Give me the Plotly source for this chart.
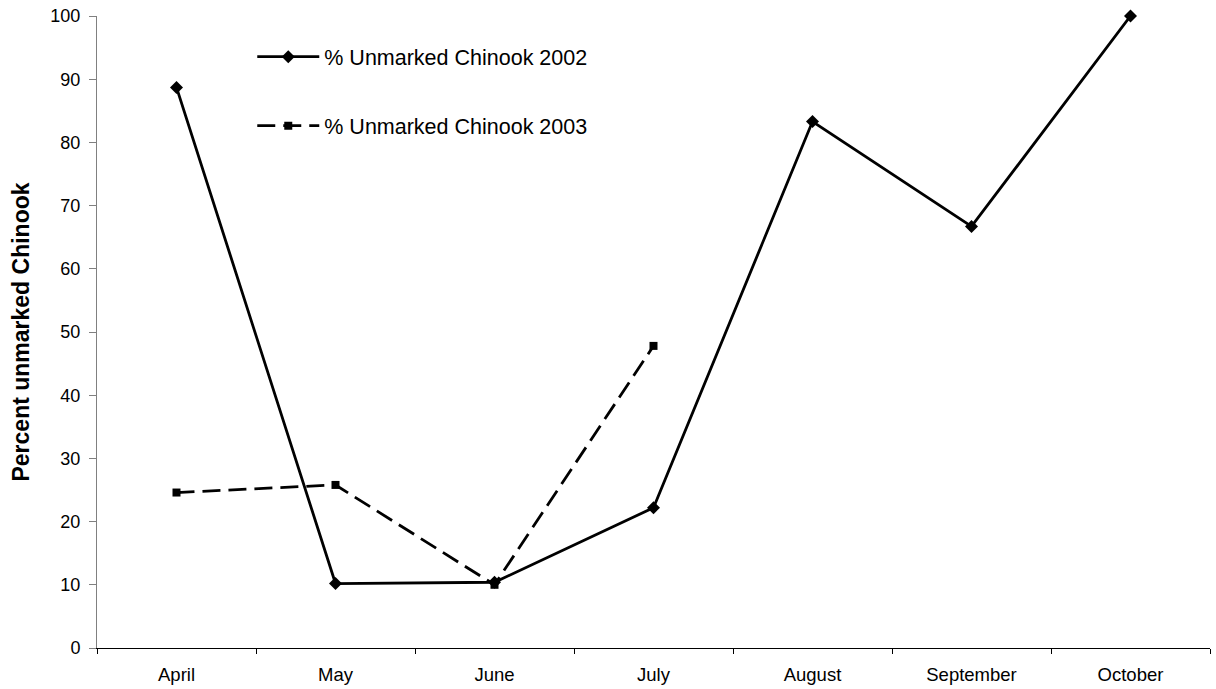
import plotly.graph_objects as go

months = ["April", "May", "June", "July", "August", "September", "October"]
unmarked_2002 = [88.7, 10.2, 10.4, 22.2, 83.3, 66.7, 100.0]
months_2003 = ["April", "May", "June", "July"]
unmarked_2003 = [24.6, 25.8, 10.0, 47.8]
y_ticks = list(range(0, 101, 10))

fig = go.Figure()
fig.add_trace(go.Scatter(
    x=months, y=unmarked_2002, mode="lines+markers",
    name="% Unmarked Chinook 2002", legendgroup="a",
    line=dict(color="black", width=2.8),
    marker=dict(symbol="diamond", size=10, color="black"),
    cliponaxis=False,
))
fig.add_trace(go.Scatter(
    x=months_2003, y=unmarked_2003, mode="lines+markers",
    name="% Unmarked Chinook 2003", legendgroup="b",
    line=dict(color="black", width=2.8, dash="18px,8px"),
    marker=dict(symbol="square", size=8, color="black"),
    cliponaxis=False,
))

fig.update_layout(
    width=1216, height=689,
    margin=dict(l=97, r=6, t=16, b=41),
    paper_bgcolor="white", plot_bgcolor="white",
    font=dict(family="Liberation Sans, Arial, sans-serif", size=18, color="black"),
    showlegend=True,
    legend=dict(x=0.1395, y=0.968, xanchor="left", yanchor="top",
                font=dict(size=21.5), traceorder="grouped", tracegroupgap=38,
                itemwidth=62, bgcolor="rgba(0,0,0,0)"),
    xaxis=dict(
        categoryorder="array", categoryarray=months,
        range=[-0.5, 6.5], showline=True, linecolor="black", linewidth=1,
        ticks="outside", tickson="boundaries", ticklen=5, tickcolor="black",
        showgrid=False, zeroline=False, tickfont=dict(size=18.5),
        ticklabelstandoff=10, automargin=False,
    ),
    yaxis=dict(
        range=[0, 100], tickvals=y_ticks, showline=True, linecolor="#808080",
        linewidth=1, ticks="outside", ticklen=7, tickcolor="#808080",
        showgrid=False, zeroline=False, tickfont=dict(size=18),
        ticklabelstandoff=5, automargin=False,
        title=dict(text="<b>Percent unmarked Chinook</b>", font=dict(size=23), standoff=14),
    ),
)

fig.write_html("out.html")
